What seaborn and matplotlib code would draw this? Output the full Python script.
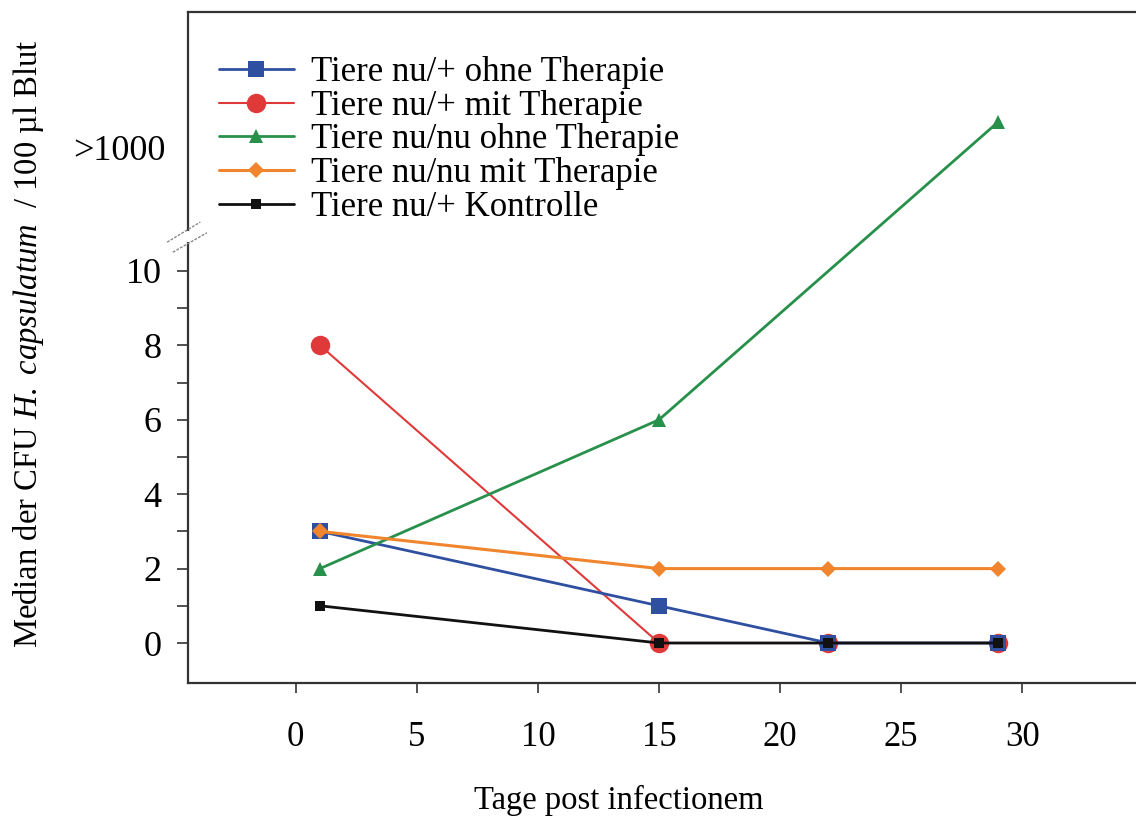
import numpy as np
import pandas as pd
import seaborn as sns
import matplotlib.pyplot as plt

# values (days post infection, median CFU)
days = [1, 15, 22, 29]
days_green = [1, 15, 29]
nu_plus_ohne = [3, 1, 0, 0]
nu_plus_mit = [8, 0, 0, 0]
nu_nu_ohne = [2, 6, 1000]   # last value is ">1000", drawn above the axis break
nu_nu_mit = [3, 2, 2, 2]
kontrolle = [1, 0, 0, 0]
labels = ["Tiere nu/+ ohne Therapie", "Tiere nu/+ mit Therapie",
          "Tiere nu/nu ohne Therapie", "Tiere nu/nu mit Therapie",
          "Tiere nu/+ Kontrolle"]
x_ticks = [0, 5, 10, 15, 20, 25, 30]
y_ticks = [0, 2, 4, 6, 8, 10]

BREAK_LEVEL = 14  # where values above the break are drawn


def to_axis(vals):
    return [BREAK_LEVEL if v > 10 else v for v in vals]


sns.set_theme(style="ticks")
plt.rcParams['font.family'] = ['Liberation Serif', 'DejaVu Serif']
plt.rcParams['mathtext.fontset'] = 'custom'
plt.rcParams['mathtext.rm'] = 'Liberation Serif'
plt.rcParams['mathtext.it'] = 'Liberation Serif:italic'
plt.rcParams['text.color'] = 'black'
plt.rcParams['axes.labelcolor'] = 'black'
plt.rcParams['xtick.labelcolor'] = 'black'
plt.rcParams['ytick.labelcolor'] = 'black'

fig = plt.figure(figsize=(11.36, 8.18), dpi=100)
ax = fig.add_axes([188 / 1136, 1 - 683 / 818, 1 - 188 / 1136, 671 / 818])

series = [
    (days, nu_plus_ohne, "#2f4fa0", "s", 11, 2.0, 3),
    (days, nu_plus_mit, "#e0393a", "o", 14, 1.5, 2),
    (days_green, to_axis(nu_nu_ohne), "#27904a", "^", 10, 2.0, 4),
    (days, nu_nu_mit, "#f0852d", "D", 8, 2.2, 5),
    (days, kontrolle, "#111111", "s", 7.5, 2.0, 6),
]
for (x, y, col, mk, ms, lw, z), lab in zip(series, labels):
    df = pd.DataFrame({"Tag": x, "CFU": y})
    sns.lineplot(data=df, x="Tag", y="CFU", ax=ax, color=col, marker=mk,
                 markersize=ms, linewidth=lw, markeredgewidth=0,
                 label=lab, zorder=z)

ax.set_xlim(-4.45, 34.7)
ax.set_ylim(-1.075, 16.96)
ax.set_xticks(x_ticks)
ax.set_yticks(y_ticks)
ax.set_yticks(np.arange(1, 11, 2), minor=True)
ax.tick_params(axis='x', length=7, width=1.2, pad=20, labelsize=25, color="#333333")
ax.tick_params(axis='y', which='both', length=8, width=1.2, pad=11, labelsize=26, color="#333333")

for s in ['left', 'bottom', 'top']:
    ax.spines[s].set_linewidth(1.6)
    ax.spines[s].set_color("#333333")
ax.spines['right'].set_visible(False)

# axis break on the y axis
ax.plot([-0.022, 0.013], [0.657, 0.687], transform=ax.transAxes, color="#888888",
        lw=1, ls=(0, (2, 1)), clip_on=False, zorder=10)
ax.plot([-0.016, 0.020], [0.642, 0.671], transform=ax.transAxes, color="#888888",
        lw=1, ls=(0, (2, 1)), clip_on=False, zorder=10)
ax.plot([0, 0], [0.660, 0.670], transform=ax.transAxes, color="white",
        lw=3, clip_on=False, zorder=9)
ax.text(-0.024, 13.2, ">1000", transform=ax.get_yaxis_transform(),
        ha='right', va='center', fontsize=26)

ax.set_xlabel("Tage post infectionem", fontsize=23.5)
ax.xaxis.set_label_coords(0.454, -0.152)
ax.set_ylabel(r"Median der CFU $\mathit{H.\ capsulatum}$  / 100 µl Blut", fontsize=23.5)
ax.yaxis.set_label_coords(-0.150, 0.505)

ax.legend(loc='upper left', bbox_to_anchor=(0.018, 0.955), frameon=False,
          fontsize=25, handlelength=2.15, handletextpad=0.5, labelspacing=0.02,
          borderaxespad=0)

fig.savefig("out.png", dpi=100, facecolor="white")
